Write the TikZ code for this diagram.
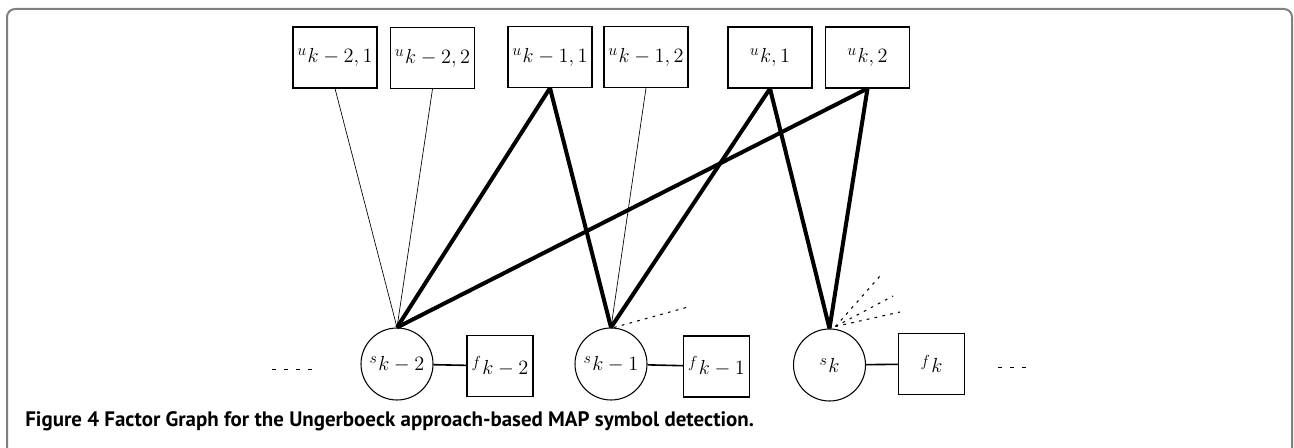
\documentclass[tikz,border=0pt]{standalone}
\usepackage{graphicx}
\usepackage{fontspec}
\newfontfamily\capfont{PT Sans}
\begin{document}
\begin{tikzpicture}[x=0.75pt,y=-0.75pt,
  ubox/.style={draw,line width=0.8pt,minimum width=63pt,minimum height=45.75pt,inner sep=0pt},
  fbox/.style={draw,line width=0.8pt,minimum width=49.5pt,minimum height=45.75pt,inner sep=0pt},
  snode/.style={draw,circle,line width=0.8pt,minimum size=54pt,inner sep=0pt},
  thin/.style={line width=0.5pt},
  thick/.style={line width=3pt},
  dotty/.style={line width=0.8pt,dash pattern=on 2pt off 4pt},
  frame/.style={draw=black!50,line width=1.5pt,rounded corners=6pt}
]
\useasboundingbox (0,0) rectangle (1294,448);
\draw[frame] (7,448) -- (7,9) -- (1292,9) -- (1292,448);

\newcommand{\lab}[2]{\raisebox{5pt}{\large$#1$}\hspace{1pt}\scalebox{1.06}{\Large$#2$}}

\node[ubox] (u1) at (335,57.5) {\lab{u}{k-2,1}};
\node[ubox] (u2) at (432.5,58) {\lab{u}{k-2,2}};
\node[ubox] (u3) at (550,57) {\lab{u}{k-1,1}};
\node[ubox] (u4) at (646,57) {\lab{u}{k-1,2}};
\node[ubox] (u5) at (770,57.5) {\lab{u}{k,1}};
\node[ubox] (u6) at (867.5,57.5) {\lab{u}{k,2}};

\node[snode] (s1) at (397,364) {\lab{s}{k-2}};
\node[snode] (s2) at (611,364) {\lab{s}{k-1}};
\node[snode] (s3) at (829.5,365) {\lab{s}{k}};

\node[fbox] (f1) at (500,366) {\lab{f}{k-2}};
\node[fbox] (f2) at (716.5,366.5) {\lab{f}{k-1}};
\node[fbox] (f3) at (931.5,364) {\lab{f}{k}};

\draw[line width=1.2pt] (s1) -- (f1);
\draw[line width=1.2pt] (s2) -- (f2);
\draw[line width=1.2pt] (s3) -- (f3);

\draw[thin] (u1.south) -- (s1.north);
\draw[thin] (u2.south) -- (s1.north);
\draw[thick] (u3.south) -- (s1.north);
\draw[thick] (u6.south) -- (s1.north);
\draw[thick] (u3.south) -- (s2.north);
\draw[thin] (u4.south) -- (s2.north);
\draw[thick] (u5.south) -- (s2.north);
\draw[thick] (u5.south) -- (s3.north);
\draw[thick] (u6.south) -- (s3.north);

\coordinate (d1) at (688,307);
\coordinate (d2) at (880,276);
\coordinate (d3) at (893,296);
\coordinate (d4) at (900,312);
\draw[dotty] (s2.north) ++(3,0) -- (d1);
\draw[dotty] (s3.north) ++(6,-2) -- (d2);
\draw[dotty] (s3.north) ++(6,-2) -- (d3);
\draw[dotty] (s3.north) ++(6,-2) -- (d4);

\coordinate (l1) at (272,369);
\coordinate (l2) at (318,369);
\coordinate (r1) at (998,367);
\coordinate (r2) at (1030,367);
\draw[line width=0.6pt,dash pattern=on 3pt off 6pt] (l1) -- (l2);
\draw[line width=0.6pt,dash pattern=on 3pt off 6pt] (r1) -- (r2);

\node[anchor=base west,inner sep=0pt,font=\capfont\bfseries\fontsize{15.7}{18}\selectfont] (cap) at (25,426)
  {Figure 4 Factor Graph for the Ungerboeck approach-based MAP symbol detection.};
\end{tikzpicture}
\end{document}
